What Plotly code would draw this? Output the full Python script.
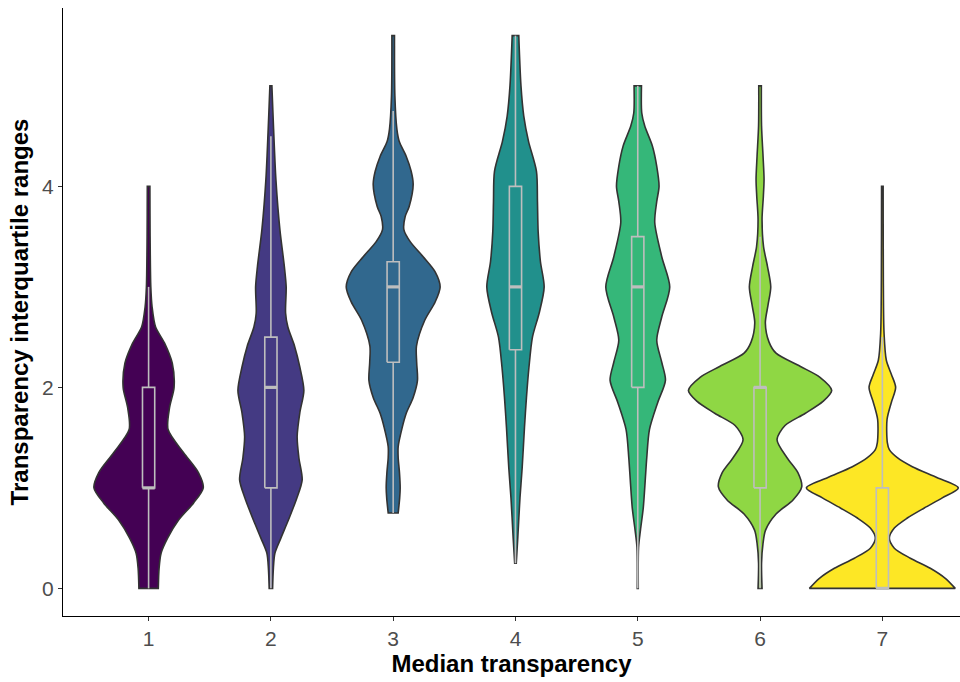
import plotly.graph_objects as go

# Median transparency groups (x categories)
groups = [1, 2, 3, 4, 5, 6, 7]
colors = ["#440154", "#443A83", "#31688E", "#21908C", "#35B779", "#8FD744", "#FDE725"]

# Violin density profiles: y levels and half-widths, in pixels at 122.4 px per category
PX = 122.4

v1_y = [0, 0.2, 0.35, 0.5, 0.68, 0.85, 1.0, 1.15, 1.35, 1.58, 1.8, 2.0, 2.24, 2.44, 2.6, 2.8, 3.0, 3.5, 4.0]
v1_w = [9.7, 10.5, 12.5, 19, 30, 45, 54.7, 50, 35, 19.5, 21, 25.5, 23.7, 16, 7, 3.5, 2.2, 1.5, 1.3]

v2_y = [0, 0.2, 0.35, 0.5, 0.68, 0.9, 1.08, 1.3, 1.51, 1.75, 1.97, 2.2, 2.41, 2.6, 2.74, 3.0, 3.2, 3.57, 4.07, 4.57, 5.0]
v2_w = [1.7, 2.5, 4, 10, 17.5, 26, 31.3, 28, 26.3, 29, 33, 29, 23.7, 17, 14.7, 15.3, 13.5, 9, 5, 2.7, 1]

v3_y = [0.75, 0.9, 1.0, 1.15, 1.3, 1.41, 1.6, 1.74, 1.9, 2.07, 2.25, 2.41, 2.67, 2.85, 3.0, 3.15, 3.3, 3.45,
        3.57, 3.7, 3.8, 4.02, 4.15, 4.3, 4.45, 4.57, 4.9, 5.5]
v3_w = [5, 6.5, 7, 6.3, 5, 5, 9, 13, 20, 24.3, 23.5, 23.3, 31.7, 42, 47, 42, 30, 17,
        10.7, 12, 16, 20, 18, 13, 6, 3.7, 1.7, 1.3]

v4_y = [0.25, 0.5, 0.9, 1.2, 1.6, 1.9, 2.2, 2.5, 2.75, 3.0, 3.25, 3.55, 3.85, 4.15, 4.45, 4.7, 5.0, 5.5]
v4_w = [0.8, 2.3, 4.5, 6.7, 9, 11, 13.5, 17, 24, 28.7, 25, 22.7, 22, 21, 13, 8.3, 5.5, 3.3]

v5_y = [0, 0.41, 0.58, 0.8, 1.08, 1.3, 1.58, 1.85, 2.07, 2.25, 2.47, 2.7, 3.0, 3.3, 3.64, 3.85, 4.0, 4.2,
        4.4, 4.6, 4.73, 5.0]
v5_w = [0.5, 0.8, 2.7, 5.5, 7.5, 9, 11.7, 20, 27.7, 24, 19, 24, 32, 24, 17, 19, 21.3, 19,
        14.7, 7, 4, 3.7]

v6_y = [0, 0.25, 0.45, 0.58, 0.74, 0.88, 1.01, 1.15, 1.3, 1.48, 1.62, 1.74, 1.86, 1.97, 2.1, 2.21, 2.34,
        2.45, 2.64, 2.82, 3.0, 3.2, 3.4, 3.67, 3.9, 4.07, 4.3, 4.6, 5.0]
v6_w = [2, 1.5, 3, 5.5, 16, 33, 41.7, 38, 27, 17, 25, 45, 63, 71.7, 60, 40, 16,
        9, 5.3, 8, 10.7, 7.5, 3.5, 2, 3.3, 4, 3, 1.5, 1.3]

v7_y = [0, 0.1, 0.2, 0.3, 0.4, 0.5, 0.6, 0.7, 0.8, 0.9, 1.0, 1.1, 1.21, 1.3, 1.38, 1.45, 1.68, 1.85,
        2.0, 2.13, 2.27, 2.54, 3.07, 4.0]
v7_w = [73, 63, 48, 28, 12, 7, 12, 25, 42, 60, 76, 55, 30, 15, 7, 5, 4.7, 9,
        13.3, 9, 4, 1.7, 1, 0.8]

dens_y = [v1_y, v2_y, v3_y, v4_y, v5_y, v6_y, v7_y]
dens_w = [v1_w, v2_w, v3_w, v4_w, v5_w, v6_w, v7_w]

# Box-plot statistics per group
q1 = [1, 1, 2.25, 2.375, 2, 1, 0]
median = [1, 2, 3, 3, 3, 2, 0]
q3 = [2, 2.5, 3.25, 4, 3.5, 2, 1]
whisk_lo = [0, 0, 0.75, 0.25, 0, 0, 0]
whisk_hi = [3, 4.5, 4.75, 5.5, 5, 3.5, 2.5]

BOX_HALF = 0.05
BOX_COLOR = "#BEBEBE"
OUTLINE = "#333333"

fig = go.Figure()

# Violins: right edge upward, left edge back down; end vertices are repeated
# so the spline keeps sharp corners at the flat (trimmed) ends.
for g, ys, ws, col in zip(groups, dens_y, dens_w, colors):
    half = [w / PX for w in ws]
    rx = [g + h for h in half]
    lx = [g - h for h in reversed(half)]
    ry = list(ys)
    ly = list(reversed(ys))
    xs = [rx[0]] + rx + [rx[-1]] + [lx[0]] + lx + [lx[-1]] + [rx[0]]
    yy = [ry[0]] + ry + [ry[-1]] + [ly[0]] + ly + [ly[-1]] + [ry[0]]
    fig.add_trace(go.Scatter(
        x=xs, y=yy, mode="lines", fill="toself", fillcolor=col,
        line=dict(color=OUTLINE, width=1.6, shape="spline", smoothing=0.8),
        hoverinfo="skip", showlegend=False,
    ))

# Box plots drawn over the violins
for g, a, m, b, lo, hi in zip(groups, q1, median, q3, whisk_lo, whisk_hi):
    fig.add_trace(go.Scatter(
        x=[g, g, None, g, g], y=[lo, a, None, b, hi], mode="lines",
        line=dict(color=BOX_COLOR, width=1.6), hoverinfo="skip", showlegend=False,
    ))
    fig.add_trace(go.Scatter(
        x=[g - BOX_HALF, g + BOX_HALF, g + BOX_HALF, g - BOX_HALF, g - BOX_HALF],
        y=[a, a, b, b, a], mode="lines",
        line=dict(color=BOX_COLOR, width=1.6), hoverinfo="skip", showlegend=False,
    ))
    fig.add_trace(go.Scatter(
        x=[g - BOX_HALF, g + BOX_HALF], y=[m, m], mode="lines",
        line=dict(color=BOX_COLOR, width=3.2), hoverinfo="skip", showlegend=False,
    ))

tick_font = dict(family="Liberation Sans, Arial, sans-serif", size=21, color="#4D4D4D")
title_font = dict(family="Liberation Sans, Arial, sans-serif", size=24, color="black")

fig.update_layout(
    width=960, height=682,
    margin=dict(l=63, r=0, t=8, b=66),
    paper_bgcolor="white", plot_bgcolor="white",
    showlegend=False,
)
fig.update_xaxes(
    range=[0.3, 7.635], tickvals=groups, ticktext=[str(g) for g in groups],
    showgrid=False, zeroline=False, showline=True, linecolor="black", linewidth=1.2,
    ticks="outside", ticklen=4, tickwidth=1.1, tickcolor="#333333",
    tickfont=tick_font,
    title=dict(text="<b>Median transparency</b>", font=title_font, standoff=4),
)
fig.update_yaxes(
    range=[-0.275, 5.775], tickvals=[0, 2, 4], ticktext=["0", "2", "4"],
    showgrid=False, zeroline=False, showline=True, linecolor="black", linewidth=1.2,
    ticks="outside", ticklen=4, tickwidth=1.1, tickcolor="#333333",
    tickfont=tick_font,
    title=dict(text="<b>Transparency interquartile ranges</b>", font=title_font, standoff=6),
)

fig.write_html("out.html")
